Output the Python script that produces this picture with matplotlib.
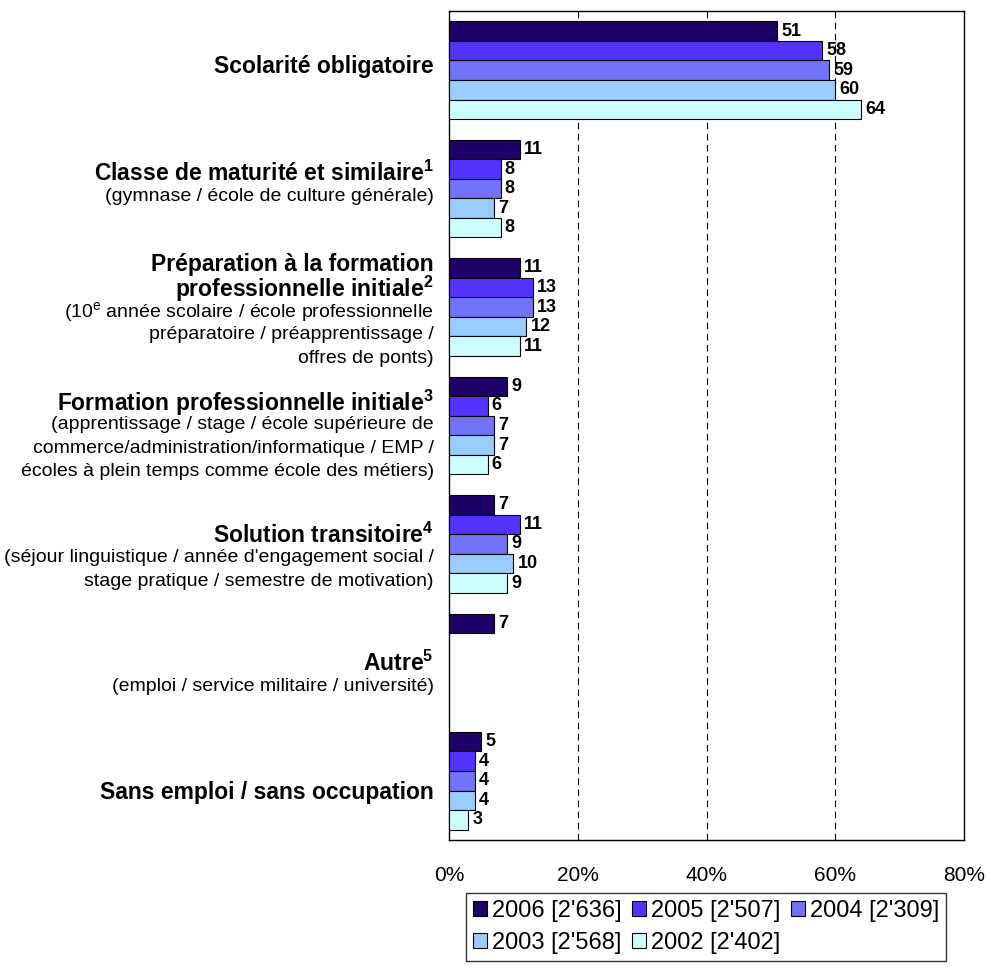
import numpy as np
import matplotlib.pyplot as plt
from matplotlib.patches import Patch

plt.rcParams['font.family'] = ['Liberation Sans', 'DejaVu Sans']
plt.rcParams['mathtext.fontset'] = 'custom'
plt.rcParams['mathtext.rm'] = 'Liberation Sans'
plt.rcParams['mathtext.bf'] = 'Liberation Sans:bold'

# --- données ---
titres = [
    ["Scolarité obligatoire"],
    [r"Classe de maturité et similaire$^{\mathbf{1}}$"],
    ["Préparation à la formation", r"professionnelle initiale$^{\mathbf{2}}$"],
    [r"Formation professionnelle initiale$^{\mathbf{3}}$"],
    [r"Solution transitoire$^{\mathbf{4}}$"],
    [r"Autre$^{\mathbf{5}}$"],
    ["Sans emploi / sans occupation"],
]
sous_titres = [
    [],
    ["(gymnase / école de culture générale)"],
    [r"(10$^{\mathrm{e}}$ année scolaire / école professionnelle", "préparatoire / préapprentissage /",
     "offres de ponts)"],
    ["(apprentissage / stage / école supérieure de",
     "commerce/administration/informatique / EMP /",
     "écoles à plein temps comme école des métiers)"],
    ["(séjour linguistique / année d'engagement social /",
     "stage pratique / semestre de motivation)"],
    ["(emploi / service militaire / université)"],
    [],
]
annees = ["2006 [2'636]", "2005 [2'507]", "2004 [2'309]", "2003 [2'568]", "2002 [2'402]"]
v2006 = [51, 11, 11, 9, 7, 7, 5]
v2005 = [58, 8, 13, 6, 11, np.nan, 4]
v2004 = [59, 8, 13, 7, 9, np.nan, 4]
v2003 = [60, 7, 12, 7, 10, np.nan, 4]
v2002 = [64, 8, 11, 6, 9, np.nan, 3]
series = [v2006, v2005, v2004, v2003, v2002]
couleurs = ['#1e0066', '#5533ff', '#7272f7', '#99ccff', '#ccffff']

fig = plt.figure(figsize=(9.88, 9.67), dpi=100)
ax = fig.add_axes([449 / 988, 1 - 840 / 967, 515 / 988, 829 / 967])

y = np.arange(len(titres))
h = 0.165
for i, (vals, c) in enumerate(zip(series, couleurs)):
    pos = y - 2 * h + i * h
    bars = ax.barh(pos, vals, height=h, color=c, edgecolor='black', linewidth=0.8, zorder=3)
    for b, v in zip(bars, vals):
        if np.isnan(v):
            continue
        ax.annotate(f"{v:.0f}", xy=(v, b.get_y() + h / 2), xytext=(3, 0),
                    textcoords='offset points', ha='left', va='center',
                    fontsize=13, fontweight='bold', zorder=4)

ax.set_xlim(0, 80)
ax.set_ylim(len(titres) - 0.5, -0.5)
ax.set_xticks([0, 20, 40, 60, 80])
ax.set_xticklabels(['0%', '20%', '40%', '60%', '80%'], fontsize=15)
ax.tick_params(axis='x', length=0, pad=19)
ax.set_yticks([])
for xv in [20, 40, 60]:
    ax.axvline(xv, color='black', linewidth=0.8, linestyle=(0, (6, 4)), zorder=1)
for s in ax.spines.values():
    s.set_linewidth(1.0)

# étiquettes des catégories (titre en gras + précisions)
pas = 17.0  # points entre lignes
decalage = [-6, -6, 2, 9, 12, 10, 9]  # décalage vertical (pixels, vers le bas)
for k in range(len(titres)):
    lignes = [(t, 'bold', 16.5) for t in titres[k]] + [(t, 'normal', 14.0) for t in sous_titres[k]]
    n = len(lignes)
    for j, (txt, w, fs) in enumerate(lignes):
        off = ((n - 1) / 2 - j) * pas - decalage[k] * 0.72
        ax.annotate(txt, xy=(0, y[k]), xycoords=('axes fraction', 'data'),
                    xytext=(-11, off), textcoords='offset points',
                    ha='right', va='center_baseline', fontsize=fs, fontweight=w)

# légende (ordre ligne par ligne)
poignees = [Patch(facecolor=c, edgecolor='black', linewidth=0.8) for c in couleurs]
ordre = [0, 3, 1, 4, 2]
leg = fig.legend([poignees[i] for i in ordre], [annees[i] for i in ordre],
                 ncol=3, loc='center', bbox_to_anchor=(706 / 988, 1 - 927 / 967),
                 fontsize=17, frameon=True, fancybox=False, edgecolor='black',
                 handlelength=0.6, handleheight=0.6, handletextpad=0.2,
                 columnspacing=0.45, labelspacing=0.45, borderpad=0.3)
leg.get_frame().set_linewidth(1.0)

fig.savefig('out.png', dpi=100)
